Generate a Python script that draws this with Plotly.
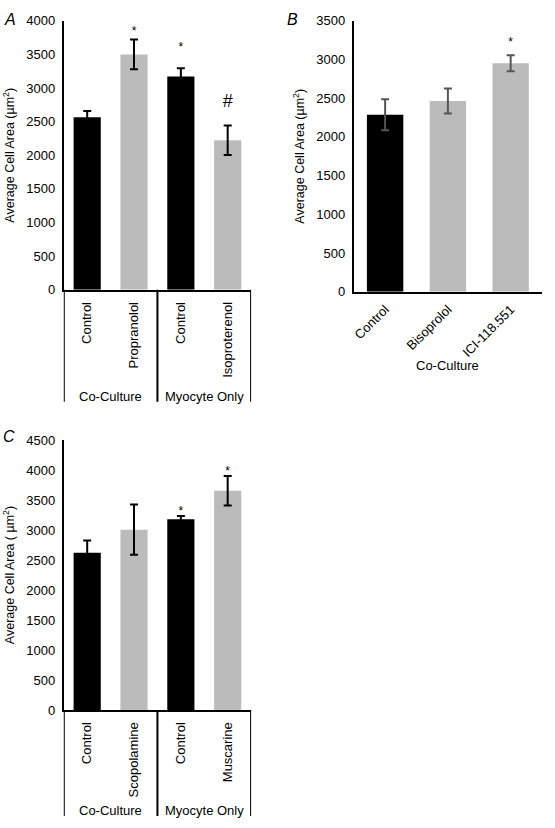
import plotly.graph_objects as go

W, H = 555, 828
FONT = "Liberation Sans, Arial, Helvetica, sans-serif"

# ---------------- data ----------------
# Panel A
a_labels = ["Control", "Propranolol", "Control", "Isoproterenol"]
a_values = [2565, 3500, 3172, 2224]
a_errors = [92, 220, 122, 220]
a_marks = ["", "*", "*", "#"]
a_mark_y = [0, 3830, 3590, 2790]
a_groups = ["Co-Culture", "Myocyte Only"]
a_group_sizes = [2, 2]

# Panel B
b_labels = ["Control", "Bisoprolol", "ICI-118.551"]
b_values = [2286, 2464, 2951]
b_errors = [200, 162, 103]
b_marks = ["", "", "*"]
b_mark_y = [0, 0, 3210]
b_group = "Co-Culture"

# Panel C
c_labels = ["Control", "Scopolamine", "Control", "Muscarine"]
c_values = [2623, 3006, 3180, 3654]
c_errors = [203, 418, 55, 245]
c_marks = ["", "", "*", "*"]
c_mark_y = [0, 0, 3300, 3970]
c_groups = ["Co-Culture", "Myocyte Only"]
c_group_sizes = [2, 2]

# colours per bar (black = control, gray = treatment)
a_colors = ["#000000", "#BBBBBB", "#000000", "#BBBBBB"]
b_colors = ["#000000", "#BBBBBB", "#BBBBBB"]
c_colors = ["#000000", "#BBBBBB", "#000000", "#BBBBBB"]

TICK_SIZE = 13
TITLE_SIZE = 12.5


def px(x):
    return x / W


def py(y):
    return 1 - y / H


fig = go.Figure()


def add_panel(n, labels, values, errors, colors, marks, mark_y, err_color, ymax, dtick,
              dom_x, dom_y):
    xs = list(range(len(labels)))
    xa = "x" if n == 1 else f"x{n}"
    ya = "y" if n == 1 else f"y{n}"
    fig.add_trace(go.Bar(
        x=xs, y=values, marker=dict(color=colors, line=dict(width=0)), width=0.58,
        error_y=dict(type="data", array=errors, color=err_color, thickness=2, width=4),
        xaxis=xa, yaxis=ya, showlegend=False, hoverinfo="skip"))
    mx = [x for x, m in zip(xs, marks) if m]
    my = [y for y, m in zip(mark_y, marks) if m]
    mt = [m for m in marks if m]
    ms = [18 if m == "#" else 12 for m in mt]
    fig.add_trace(go.Scatter(
        x=mx, y=my, mode="text", text=mt,
        textfont=dict(family=FONT, size=ms, color="black"),
        xaxis=xa, yaxis=ya, showlegend=False, hoverinfo="skip"))
    xkey = "xaxis" if n == 1 else f"xaxis{n}"
    ykey = "yaxis" if n == 1 else f"yaxis{n}"
    fig.update_layout(**{
        xkey: dict(domain=dom_x, anchor=ya, range=[-0.5, len(labels) - 0.5],
                   tickvals=xs, ticktext=labels, showline=True, linecolor="black",
                   linewidth=2, showgrid=False, zeroline=False,
                   ticks="outside", ticklen=5, tickcolor="rgba(0,0,0,0)",
                   tickfont=dict(family=FONT, size=TICK_SIZE, color="black"),
                   fixedrange=True),
        ykey: dict(domain=dom_y, anchor=xa, range=[0, ymax], dtick=dtick,
                   showline=True, linecolor="black", linewidth=2, showgrid=False,
                   zeroline=False, ticks="outside", ticklen=4,
                   tickcolor="rgba(0,0,0,0)",
                   tickfont=dict(family=FONT, size=TICK_SIZE, color="black"),
                   fixedrange=True),
    })
    return xa


def add_groups(xa, groups, sizes, y_top_px, y_bot_px, y_text_px):
    start = -0.5
    bounds = [start]
    for g, s in zip(groups, sizes):
        fig.add_annotation(x=start + s / 2, y=py(y_text_px), xref=xa, yref="paper",
                           text=g, showarrow=False, yanchor="middle",
                           font=dict(family=FONT, size=TICK_SIZE, color="black"))
        start += s
        bounds.append(start)
    for b in bounds:
        fig.add_shape(type="line", xref=xa, yref="paper", x0=b, x1=b,
                      y0=py(y_top_px), y1=py(y_bot_px),
                      line=dict(color="black", width=2))


# Panel A
xa = add_panel(1, a_labels, a_values, a_errors, a_colors, a_marks, a_mark_y, "black",
               4000, 500, [px(62), px(250)], [py(288), py(14)])
fig.update_layout(xaxis_tickangle=-90)
add_groups(xa, a_groups, a_group_sizes, 288, 402, 397)

# Panel B
xb = add_panel(2, b_labels, b_values, b_errors, b_colors, b_marks, b_mark_y, "#555555",
               3500, 500, [px(353), px(542)], [py(290), py(14)])
fig.update_layout(xaxis2_tickangle=-45, xaxis2_ticklen=3)
fig.add_annotation(x=1, y=py(365), xref=xb, yref="paper", text=b_group,
                   showarrow=False, yanchor="middle",
                   font=dict(family=FONT, size=TICK_SIZE, color="black"))

# Panel C
xc = add_panel(3, c_labels, c_values, c_errors, c_colors, c_marks, c_mark_y, "black",
               4500, 500, [px(62), px(250)], [py(716), py(441)])
fig.update_layout(xaxis3_tickangle=-90)
add_groups(xc, c_groups, c_group_sizes, 716, 824, 818)

# y-axis titles
ytitle = "Average Cell Area (µm<sup>2</sup>)"
tfont = dict(family=FONT, size=TITLE_SIZE, color="black")
fig.update_layout(
    yaxis_title=dict(text=ytitle, font=tfont, standoff=9),
    yaxis2_title=dict(text=ytitle, font=tfont, standoff=9),
    yaxis3_title=dict(text="Average Cell Area ( µm<sup>2</sup>)", font=tfont, standoff=9),
)

# panel letters
for letter, x, y in [("A", 8, 13), ("B", 292, 13), ("C", 7, 437)]:
    fig.add_annotation(x=px(x), y=py(y), xref="paper", yref="paper", text=f"<i>{letter}</i>",
                       showarrow=False, xanchor="center", yanchor="middle",
                       font=dict(family=FONT, size=16, color="black"))

fig.update_layout(
    width=W, height=H, margin=dict(l=0, r=0, t=0, b=0),
    plot_bgcolor="white", paper_bgcolor="white",
    font=dict(family=FONT, color="black"),
)

fig.write_html(
    "out.html",
    config={"displayModeBar": False},
    post_script="document.body.style.margin='0';document.body.style.overflow='hidden';",
)
